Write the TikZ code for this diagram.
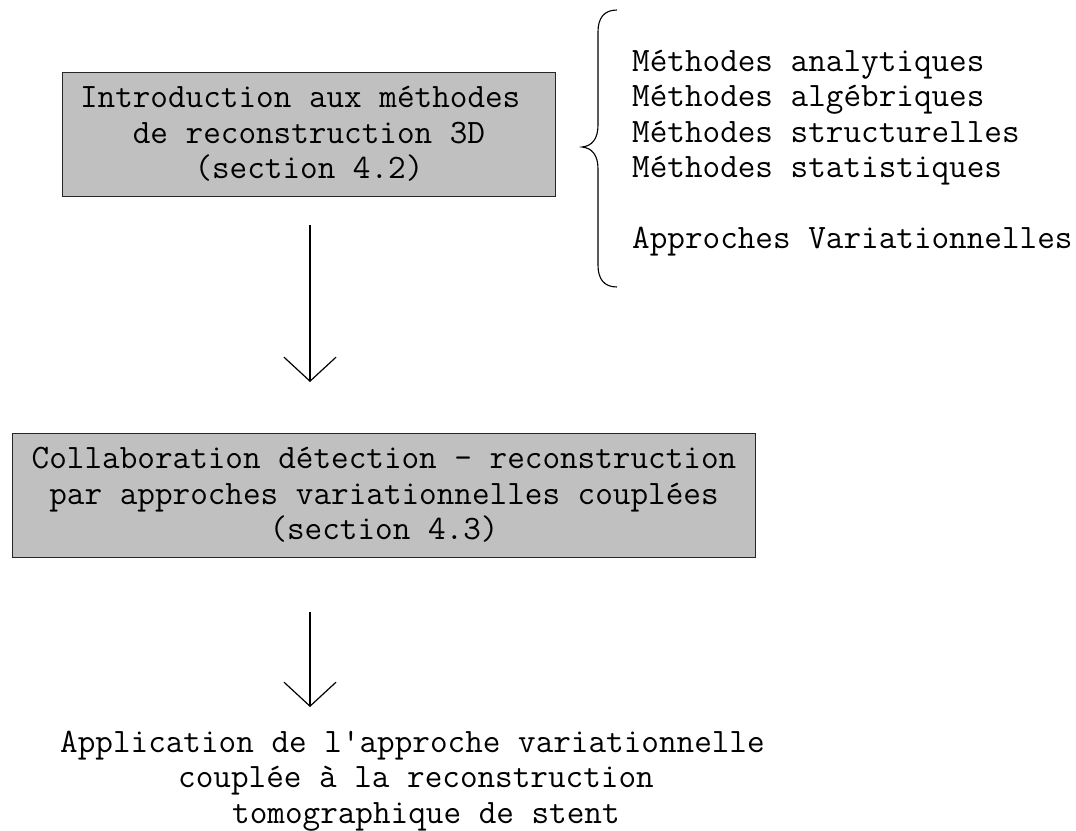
\documentclass[tikz,border=0pt]{standalone}
\usepackage{fontspec}
\usetikzlibrary{arrows.meta}
\definecolor{graybg}{HTML}{C0C0C0}
\begin{document}
\begin{tikzpicture}[x=1pt,y=-1pt,
  txt/.style={font=\ttfamily\fontsize{34.2pt}{35.5pt}\selectfont, inner sep=0pt},
  graybox/.style={txt, draw=black!85, line width=1pt, fill=graybg, align=center,
                  text height=106pt, text depth=18pt},
  conn/.style={line width=1.2pt, -{Straight Barb[length=24pt,width=52pt]}},
  bracestyle/.style={line width=1.1pt}
  ]
\useasboundingbox (0,0) rectangle (1076,830);

\node[graybox, minimum width=493pt, anchor=north west] (intro) at (62,72)
  {Introduction aux méthodes\phantom{x}\\de reconstruction 3D\\(section 4.2)};

\node[graybox, minimum width=743pt, anchor=north west] (collab) at (12,433)
  {Collaboration détection - reconstruction\\par approches variationnelles couplées\\(section 4.3)};

\node[txt, align=left, anchor=base west] (methods) at (632,248.5)
  {Méthodes analytiques\\Méthodes algébriques\\Méthodes structurelles\\Méthodes statistiques\\[35.5pt]Approches Variationnelles};

\node[txt, align=left, anchor=base west] (appl) at (60,823)
  {Application de l'approche variationnelle\\\hspace*{118pt}couplée à la reconstruction\\\hspace*{172pt}tomographique de stent};

% brace
\draw[bracestyle] (617,10) .. controls (604,10) and (598,18) .. (598,32)
  -- (598,125) .. controls (598,139) and (592,146) .. (582,147)
  .. controls (592,148) and (598,155) .. (598,169)
  -- (598,265) .. controls (598,279) and (604,287) .. (617,287);

% connectors
\coordinate (a1s) at (310,225);
\coordinate (a1e) at (310,382);
\coordinate (a2s) at (310,612);
\coordinate (a2e) at (310,707);
\draw[conn] (a1s) -- (a1e);
\draw[conn] (a2s) -- (a2e);
\end{tikzpicture}
\end{document}
